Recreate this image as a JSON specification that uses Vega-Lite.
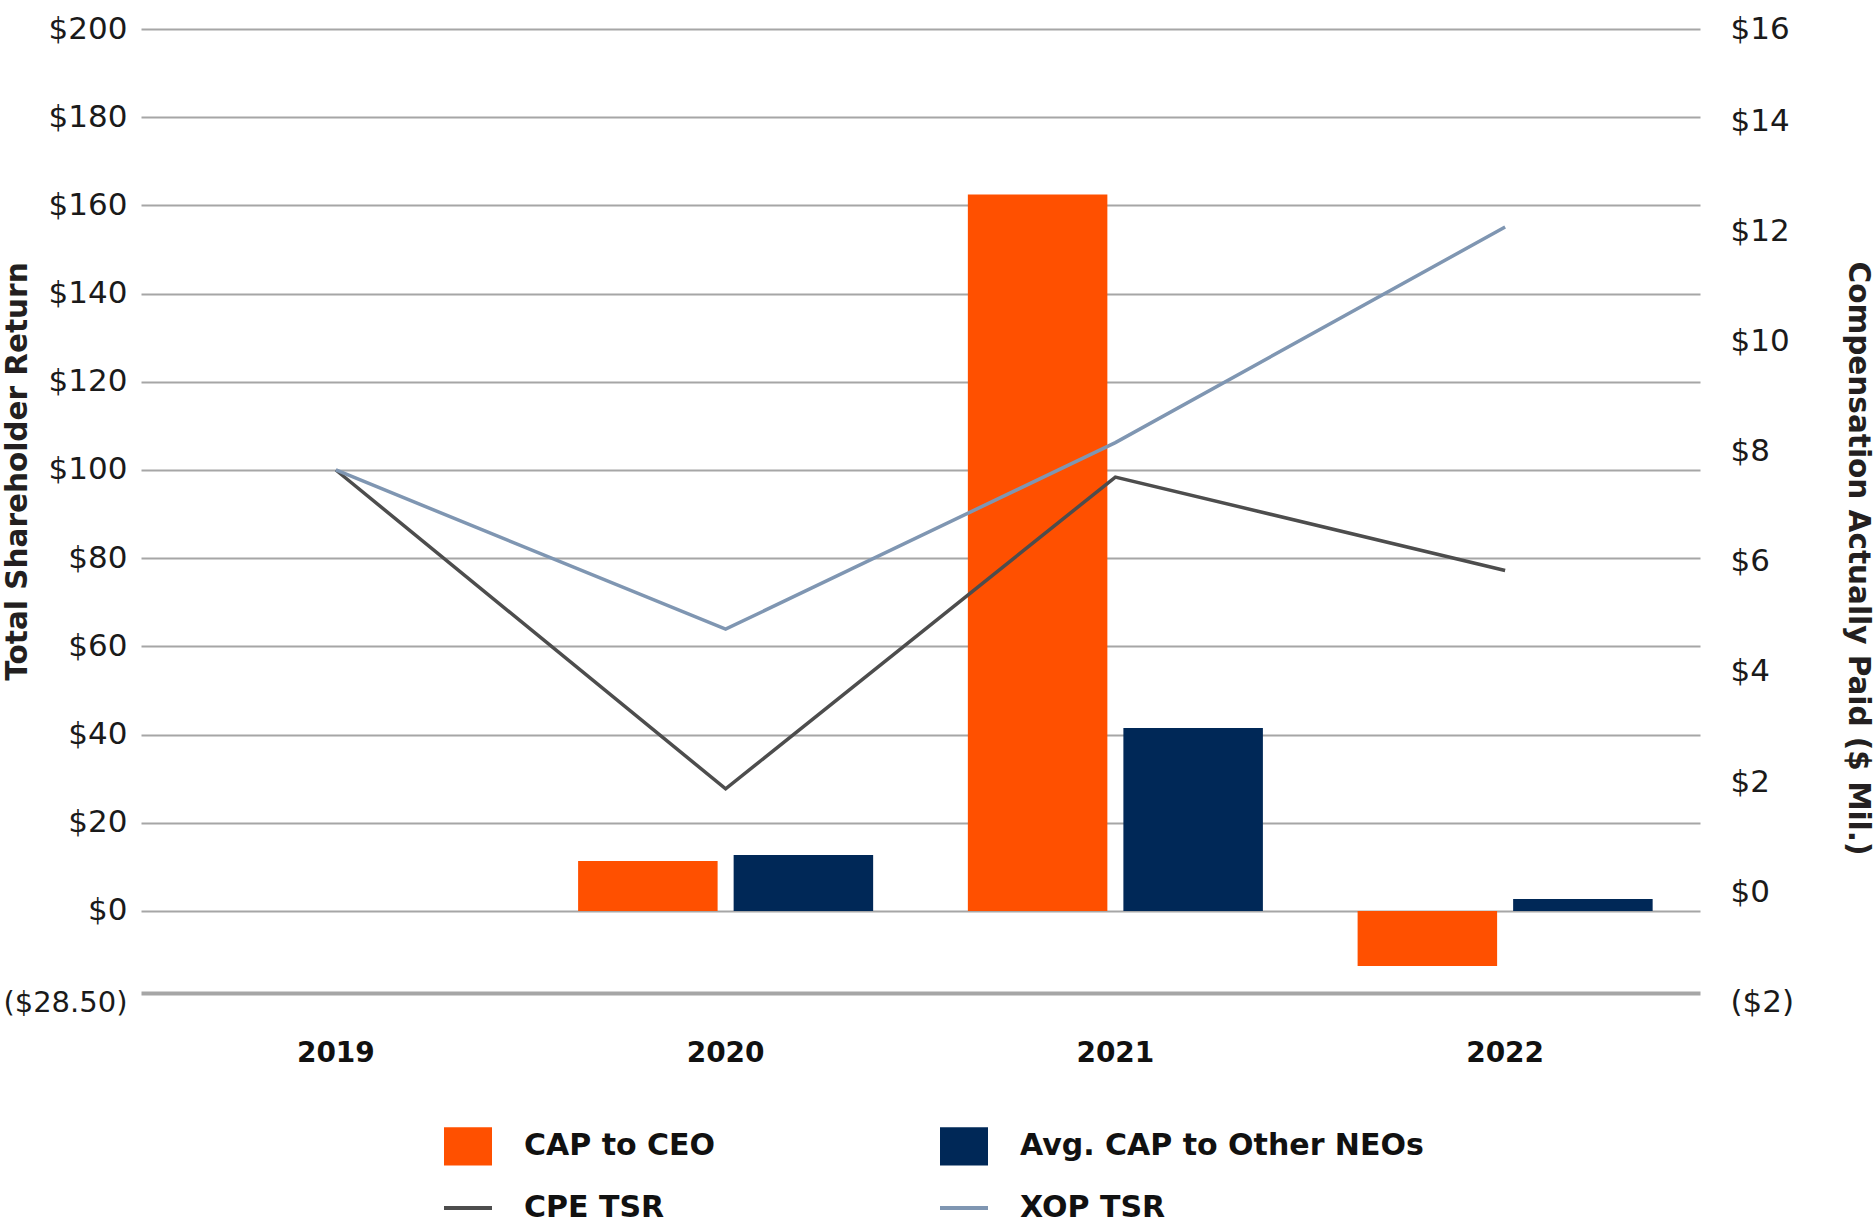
{
  "$schema": "https://vega.github.io/schema/vega-lite/v6.json",
  "width": 1559,
  "height": 964,
  "autosize": {"type": "none"},
  "padding": {"left": 141, "top": 29, "right": 175, "bottom": 235},
  "background": "white",
  "config": {"view": {"stroke": null}, "font": "DejaVu Sans"},
  "datasets": {
    "cap": [
      {"year": "2020", "series": "CAP to CEO", "value": 0.91},
      {"year": "2020", "series": "Avg. CAP to Other NEOs", "value": 1.02},
      {"year": "2021", "series": "CAP to CEO", "value": 13.03},
      {"year": "2021", "series": "Avg. CAP to Other NEOs", "value": 3.33},
      {"year": "2022", "series": "CAP to CEO", "value": -1.0},
      {"year": "2022", "series": "Avg. CAP to Other NEOs", "value": 0.22}
    ],
    "tsr": [
      {"year": "2019", "series": "CPE TSR", "tsr": 100},
      {"year": "2020", "series": "CPE TSR", "tsr": 27.7},
      {"year": "2021", "series": "CPE TSR", "tsr": 98.4},
      {"year": "2022", "series": "CPE TSR", "tsr": 77.2},
      {"year": "2019", "series": "XOP TSR", "tsr": 100},
      {"year": "2020", "series": "XOP TSR", "tsr": 63.9},
      {"year": "2021", "series": "XOP TSR", "tsr": 106.2},
      {"year": "2022", "series": "XOP TSR", "tsr": 155.1}
    ]
  },
  "layer": [
    {
      "data": {"name": "tsr"},
      "mark": {"type": "line", "strokeWidth": 3.5, "opacity": 0},
      "encoding": {
        "x": {
          "field": "year",
          "type": "ordinal",
          "scale": {"domain": ["2019", "2020", "2021", "2022"], "paddingInner": 0.243, "paddingOuter": 0.1215},
          "axis": {"title": null, "domain": false, "ticks": false, "grid": false, "labelAngle": 0, "labelFontSize": 28, "labelFontWeight": "bold", "labelColor": "#111111", "labelPadding": 46}
        },
        "y": {
          "field": "tsr",
          "type": "quantitative",
          "scale": {"domain": [-18.6, 200], "nice": false},
          "axis": {
            "orient": "left",
            "values": [-18.6, 0, 20, 40, 60, 80, 100, 120, 140, 160, 180, 200],
            "labelExpr": "datum.value < 0 ? '($28.50)' : '$' + datum.value",
            "labelFontSize": {"condition": {"test": "datum.value < 0", "value": 29}, "value": 31},
            "labelColor": "#1a1a1a",
            "labelPadding": 14,
            "labelFlush": false,
            "labelBaseline": {"condition": {"test": "datum.value < 0", "value": "top"}, "value": "middle"},
            "labelOffset": {"condition": {"test": "datum.value < 0", "value": -5}, "value": 0},
            "domain": false,
            "ticks": false,
            "grid": true,
            "gridColor": "#a6a6a6",
            "gridWidth": {"condition": {"test": "datum.value < 0", "value": 4}, "value": 2},
            "title": "Total Shareholder Return",
            "titleAngle": -90,
            "titleX": -124,
            "titleY": 442,
            "titleAlign": "center",
            "titleBaseline": "middle",
            "titleFontSize": 29.5,
            "titleFontWeight": "bold",
            "titleColor": "#231f20"
          }
        }
      }
    },
    {
      "data": {"name": "cap"},
      "mark": {"type": "bar"},
      "encoding": {
        "x": {"field": "year", "type": "ordinal"},
        "xOffset": {"field": "series", "type": "nominal", "scale": {"domain": ["CAP to CEO", "Avg. CAP to Other NEOs"], "paddingInner": 0.103, "paddingOuter": 0}},
        "y": {"field": "value", "type": "quantitative", "scale": {"domain": [-1.49, 16.04], "nice": false}, "axis": null},
        "color": {
          "field": "series",
          "type": "nominal",
          "scale": {"domain": ["CAP to CEO", "Avg. CAP to Other NEOs", "CPE TSR", "XOP TSR"], "range": ["#ff5000", "#002857", "#4d4d4d", "#7f96b2"]},
          "legend": {
            "title": null,
            "orient": "none",
            "direction": "horizontal",
            "legendX": 312,
            "legendY": 1102,
            "columns": 2,
            "columnPadding": 216,
            "rowPadding": 27,
            "padding": 0,
            "labelFontSize": 30,
            "labelFontWeight": "bold",
            "labelColor": "#111111",
            "labelOffset": 41,
            "labelLimit": 0,
            "symbolSize": 2304,
            "encode": {
              "symbols": {
                "update": {
                  "shape": {"signal": "indexof(['CPE TSR','XOP TSR'], datum.value) >= 0 ? 'M-1,0L1,0' : 'M-1,-0.8L1,-0.8L1,0.8L-1,0.8Z'"},
                  "fill": {"signal": "indexof(['CPE TSR','XOP TSR'], datum.value) >= 0 ? 'transparent' : scale('color', datum.value)"},
                  "stroke": {"signal": "scale('color', datum.value)"},
                  "strokeWidth": {"signal": "indexof(['CPE TSR','XOP TSR'], datum.value) >= 0 ? 4 : 0"},
                  "size": {"value": 2304},
                  "opacity": {"value": 1}
                }
              }
            }
          }
        }
      }
    },
    {
      "data": {"name": "tsr"},
      "mark": {"type": "line", "strokeWidth": 3.5},
      "encoding": {
        "x": {"field": "year", "type": "ordinal"},
        "y": {"field": "tsr", "type": "quantitative", "scale": {"domain": [-18.6, 200], "nice": false}, "axis": null},
        "color": {"field": "series", "type": "nominal"}
      }
    },
    {
      "data": {"name": "cap"},
      "mark": {"type": "point", "opacity": 0},
      "encoding": {
        "x": {"field": "year", "type": "ordinal"},
        "y": {
          "field": "value",
          "type": "quantitative",
          "scale": {"domain": [-1.836, 15.69], "nice": false},
          "axis": {
            "orient": "right",
            "values": [-1.836, 0, 2, 4, 6, 8, 10, 12, 14, 15.69],
            "labelExpr": "datum.value < 0 ? '($2)' : datum.value > 15 ? '$16' : '$' + datum.value",
            "labelFontSize": 31,
            "labelColor": "#1a1a1a",
            "labelPadding": 30,
            "labelFlush": false,
            "labelBaseline": {"condition": {"test": "datum.value < 0", "value": "top"}, "value": "middle"},
            "labelOffset": {"condition": {"test": "datum.value < 0", "value": -6}, "value": 0},
            "domain": false,
            "ticks": false,
            "grid": false,
            "title": "Compensation Actually Paid ($ Mil.)",
            "titleAngle": 90,
            "titleX": 157,
            "titleY": 529,
            "titleAlign": "center",
            "titleBaseline": "middle",
            "titleFontSize": 29.5,
            "titleFontWeight": "bold",
            "titleColor": "#231f20"
          }
        }
      }
    }
  ],
  "resolve": {"scale": {"y": "independent"}}
}
